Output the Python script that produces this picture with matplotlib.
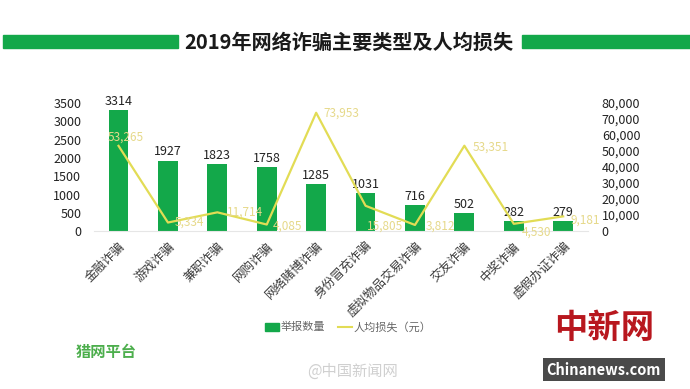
import matplotlib.pyplot as plt
from matplotlib.patches import Rectangle
from matplotlib.ticker import FuncFormatter

plt.rcParams['font.family'] = ['Noto Sans CJK SC', 'DejaVu Sans']

# 数据
categories = ['金融诈骗', '游戏诈骗', '兼职诈骗', '网购诈骗', '网络赌博诈骗',
              '身份冒充诈骗', '虚拟物品交易诈骗', '交友诈骗', '中奖诈骗', '虚假办证诈骗']
reports = [3314, 1927, 1823, 1758, 1285, 1031, 716, 502, 282, 279]
avg_loss = [53265, 5334, 11714, 4085, 73953, 15805, 3812, 53351, 4530, 9181]
left_ticks = [0, 500, 1000, 1500, 2000, 2500, 3000, 3500]
right_ticks = [0, 10000, 20000, 30000, 40000, 50000, 60000, 70000, 80000]

green = '#13a84a'
yellow = '#e2dc55'
label_yellow = '#e6d98a'

fig = plt.figure(figsize=(6.9, 3.89), dpi=100)
ax = fig.add_axes([0.136, 0.406, 0.716, 0.329])
ax2 = ax.twinx()

x = list(range(len(categories)))
ax.bar(x, reports, width=0.4, color=green, zorder=2)
for xi, v in zip(x, reports):
    ax.text(xi, v + 60, str(v), ha='center', va='bottom', fontsize=9, color='#222222')

ax.set_xlim(-0.5, len(categories) - 0.5)
ax.set_ylim(0, 3500)
ax.set_yticks(left_ticks)
ax.set_xticks(x)
ax.set_xticklabels(categories, rotation=45, ha='right', rotation_mode='anchor',
                   fontsize=8, color='#3a3a3a')
ax.tick_params(axis='both', length=0, labelsize=9)
ax.tick_params(axis='y', colors='#222222', pad=9)
ax.tick_params(axis='x', pad=6)
for s in ['top', 'right', 'left']:
    ax.spines[s].set_visible(False)
ax.spines['bottom'].set_color('#e6e6e6')

ax2.plot(x, avg_loss, color=yellow, lw=1.6, zorder=3)
ax2.set_ylim(0, 80000)
ax2.set_yticks(right_ticks)
ax2.yaxis.set_major_formatter(FuncFormatter(lambda v, p: f'{int(v):,}'))
ax2.tick_params(axis='y', length=0, labelsize=9, colors='#222222', pad=10)
for s in ['top', 'right', 'left', 'bottom']:
    ax2.spines[s].set_visible(False)

# 折线数据标签偏移（点）
offsets = [(-8, 6), (5, 0), (7, 0), (4, -1), (5, 0), (1, -15), (8, -1), (6, -1), (6, -6), (5, -3)]
for xi, v, (dx, dy) in zip(x, avg_loss, offsets):
    ax2.annotate(f'{v:,}', (xi, v), xytext=(dx, dy), textcoords='offset points',
                 ha='left', va='center', fontsize=8.5, color=label_yellow, zorder=4)

# 标题与两侧绿条
fig.text(0.505, 0.892, '2019年网络诈骗主要类型及人均损失', ha='center', va='center',
         fontsize=14.5, fontweight='bold', color='#1a1a1a')
fig.patches.append(Rectangle((0.004, 0.877), 0.254, 0.034, transform=fig.transFigure,
                             color=green, zorder=0))
fig.patches.append(Rectangle((0.757, 0.877), 0.243, 0.034, transform=fig.transFigure,
                             color=green, zorder=0))

# 图例
fig.patches.append(Rectangle((0.384, 0.148), 0.02, 0.022, transform=fig.transFigure,
                             color=green))
fig.text(0.407, 0.159, '举报数量', ha='left', va='center', fontsize=8, color='#666666')
fig.lines.append(plt.Line2D([0.49, 0.51], [0.159, 0.159], transform=fig.transFigure,
                            color=yellow, lw=1.5))
fig.text(0.512, 0.159, '人均损失（元）', ha='left', va='center', fontsize=8, color='#666666')

# 水印
fig.text(0.11, 0.095, '猎网平台', ha='left', va='center', fontsize=11,
         fontweight='bold', color='#4cae4c')
fig.text(0.445, 0.045, '@中国新闻网', ha='left', va='center', fontsize=11,
         color='#d0d0d0')
fig.text(0.875, 0.155, '中新网', ha='center', va='center', fontsize=24,
         fontweight='bold', color='#b8171e')
fig.text(0.875, 0.05, 'Chinanews.com', ha='center', va='center', fontsize=10.5,
         fontweight='bold', color='white',
         bbox=dict(boxstyle='square,pad=0.25', fc='#4a4a4a', ec='none'))

fig.savefig('out.png', dpi=100)
